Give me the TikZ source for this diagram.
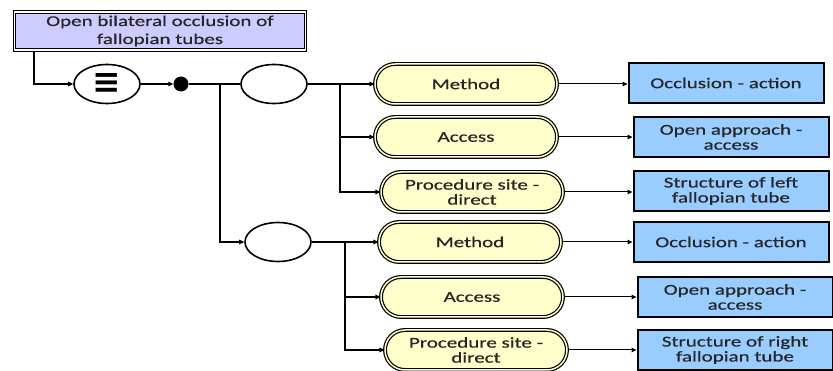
\documentclass[tikz,border=0pt]{standalone}
\usepackage{fontspec}
\setmainfont{Carlito}[FakeStretch=1.4,FakeBold=0.6]
\newfontfamily\symfont{DejaVu Sans}
\usetikzlibrary{shapes.misc,shapes.geometric,arrows.meta}

\begin{document}
\begin{tikzpicture}[x=1pt,y=-1pt,font=\fontsize{15}{18}\selectfont,
  conn/.style={line width=1.6pt,-{Triangle[length=5pt,width=4.5pt]}},
  link/.style={line width=1pt,-{Triangle[length=5pt,width=4.5pt]}},
  conceptbox/.style={draw=black,line width=1.3pt,double=white,double distance=1.2pt,
    fill=lavender,minimum width=291pt,minimum height=38pt,align=center,text=textgrey},
  refbox/.style={rounded rectangle,draw=black,line width=1.2pt,double=paleyellow,
    double distance=1.5pt,fill=paleyellow,minimum width=184pt,minimum height=40pt,
    inner sep=1pt,align=center,text=textgrey},
  valbox/.style={draw=black,line width=2pt,fill=skyblue,minimum width=195pt,
    minimum height=40pt,inner sep=1pt,align=center,text=textgrey},
  grp/.style={ellipse,draw=black,line width=1.6pt,fill=white,minimum width=66pt,
    minimum height=39pt,inner sep=0pt}]
  \definecolor{lavender}{HTML}{CCCCFF}
  \definecolor{paleyellow}{HTML}{FFFFCC}
  \definecolor{skyblue}{HTML}{99CCFF}
  \definecolor{textgrey}{HTML}{262626}
  \useasboundingbox (0,0) rectangle (833,371);

  %% concept, definition status, conjunction dot
  \node[conceptbox] (concept) at (160,31) {Open bilateral occlusion of\\fallopian tubes};
  \node[grp] (defstat) at (107,84) {\symfont\bfseries\fontsize{34}{34}\selectfont ≡};
  \node[circle,fill=black,minimum size=15pt,inner sep=0pt] (conj) at (181,84) {};

  %% two role groups
  \node[grp] (grpa) at (274,84) {};
  \node[grp] (grpb) at (278,242) {};
  \coordinate (splitab) at (220,84);
  \coordinate (splita) at (340,84);
  \coordinate (splitb) at (345,242);

  %% attributes, left tube
  \node[refbox] (methoda) at (466,84) {Method};
  \node[refbox] (accessa) at (466,137) {Access};
  \node[refbox] (sitea) at (472,192) {Procedure site -\\[-3pt]direct};
  \node[valbox] (occla) at (726,83) {Occlusion - action};
  \node[valbox] (opena) at (731,137) {Open approach -\\[-3pt]access};
  \node[valbox] (structa) at (731,191) {Structure of left\\[-3pt]fallopian tube};

  %% attributes, right tube
  \node[refbox] (methodb) at (470,242) {Method};
  \node[refbox] (accessb) at (472,297) {Access};
  \node[refbox] (siteb) at (476,350) {Procedure site -\\[-3pt]direct};
  \node[valbox] (occlb) at (731,242) {Occlusion - action};
  \node[valbox] (openb) at (735,297) {Open approach -\\[-3pt]access};
  \node[valbox] (structb) at (735,350) {Structure of right\\[-3pt]fallopian tube};

  \draw[conn] ([xshift=20pt]concept.south west) |- (defstat.west);
  \draw[conn] (defstat) -- (conj);
  \draw[line width=1.6pt] (conj) -- (grpa);
  \draw[conn] (splitab) |- (grpb.west);

  \draw[line width=1.6pt] (grpa) -- (splita);
  \draw[conn] (splita) -- (methoda.west);
  \draw[conn] (splita) |- (accessa.west);
  \draw[conn] (splita) |- (sitea.west);
  \draw[line width=1.6pt] (grpb) -- (splitb);
  \draw[conn] (splitb) -- (methodb.west);
  \draw[conn] (splitb) |- (accessb.west);
  \draw[conn] (splitb) |- (siteb.west);

  \draw[link] (methoda.east) -- (methoda.east -| occla.west);
  \draw[link] (accessa.east) -- (accessa.east -| opena.west);
  \draw[link] (sitea.east) -- (sitea.east -| structa.west);
  \draw[link] (methodb.east) -- (methodb.east -| occlb.west);
  \draw[link] (accessb.east) -- (accessb.east -| openb.west);
  \draw[link] (siteb.east) -- (siteb.east -| structb.west);
\end{tikzpicture}
\end{document}
